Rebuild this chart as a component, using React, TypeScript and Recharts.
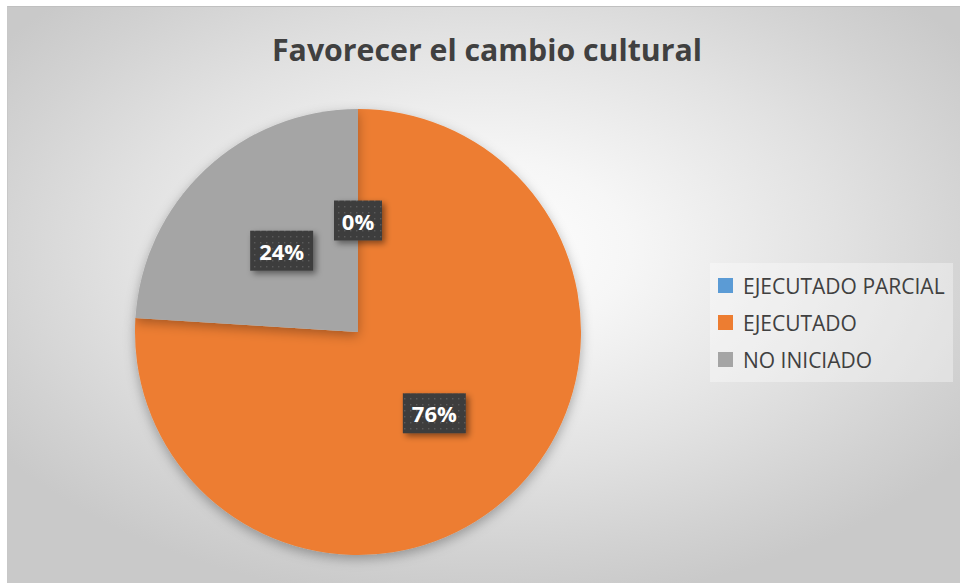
import React from 'react';
import { PieChart, Pie, Cell, Legend } from 'recharts';

const categories = ['EJECUTADO PARCIAL', 'EJECUTADO', 'NO INICIADO'];
const values = [0, 76, 24];
const colors = ['#5B9BD5', '#ED7D31', '#A5A5A5'];
const title = 'Favorecer el cambio cultural';

const data = categories.map((name, i) => ({ name, value: values[i] }));

const RADIAN = Math.PI / 180;
const FONT = '"Open Sans", "Noto Sans", sans-serif';

const renderLabel = (props: any) => {
  const { cx, cy, midAngle, outerRadius, percent } = props;
  const r = outerRadius * 0.5;
  const x = cx + r * Math.cos(-midAngle * RADIAN);
  const y = cy + r * Math.sin(-midAngle * RADIAN);
  const txt = `${Math.round(percent * 100)}%`;
  const w = txt.length <= 2 ? 48 : 63;
  const h = 40;
  return (
    <g>
      <rect
        x={x - w / 2}
        y={y - h / 2}
        width={w}
        height={h}
        fill="url(#darkDots)"
        filter="url(#boxShadow)"
      />
      <text
        x={x}
        y={y}
        textAnchor="middle"
        dominantBaseline="central"
        fill="#ffffff"
        fontFamily={FONT}
        fontWeight={700}
        fontSize={22}
      >
        {txt}
      </text>
    </g>
  );
};

const renderLegend = () => (
  <div
    style={{
      width: 243,
      height: 119,
      background: 'rgba(255,255,255,0.35)',
      boxSizing: 'border-box',
      paddingTop: 4,
      paddingLeft: 8,
    }}
  >
    {categories.map((c, i) => (
      <div
        key={c}
        style={{ display: 'flex', alignItems: 'center', height: 37 }}
      >
        <div style={{ width: 15, height: 15, background: colors[i], marginRight: 10, flexShrink: 0 }} />
        <span
          style={{
            fontFamily: FONT,
            fontSize: 21,
            lineHeight: '24px',
            color: '#404040',
            whiteSpace: 'nowrap',
          }}
        >
          {c}
        </span>
      </div>
    ))}
  </div>
);

export default function App() {
  return (
    <div style={{ position: 'absolute', left: 0, top: 0, width: 960, height: 583, background: '#ffffff', overflow: 'hidden' }}>
      <div
        style={{
          position: 'absolute',
          left: 7,
          top: 6,
          width: 953,
          height: 577,
          boxSizing: 'border-box',
          borderTop: '1px solid #c0c0c0',
          borderLeft: '1px solid #c8c8c8',
          background:
            'radial-gradient(ellipse 62% 62% at 50% 42%, #ffffff 0%, #f6f6f6 25%, #e2e2e2 60%, #d2d2d2 85%, #c9c9c9 100%)',
        }}
      />
      <svg style={{ position: 'absolute', left: 0, top: 0 }} width={960} height={100}>
        <text
          x={487}
          y={61}
          textAnchor="middle"
          fontFamily={FONT}
          fontWeight={700}
          fontSize={30}
          fill="#404040"
          textLength={430}
          lengthAdjust="spacingAndGlyphs"
        >
          {title}
        </text>
      </svg>
      <div style={{ position: 'absolute', left: 0, top: 0 }}>
        <PieChart width={960} height={583} margin={{ top: 0, right: 0, bottom: 0, left: 0 }}>
          <defs>
            <pattern id="darkDots" width="6" height="6" patternUnits="userSpaceOnUse">
              <rect width="6" height="6" fill="#3d3d3d" />
              <rect x="2" y="2" width="1.4" height="1.4" fill="#5a5a5a" />
            </pattern>
            <filter id="boxShadow" x="-30%" y="-30%" width="170%" height="180%">
              <feDropShadow dx="3" dy="3" stdDeviation="3" floodColor="#000" floodOpacity="0.45" />
            </filter>
            <filter id="pieShadow" x="-20%" y="-20%" width="140%" height="140%">
              <feDropShadow dx="0" dy="4" stdDeviation="6" floodColor="#000" floodOpacity="0.3" />
            </filter>
          </defs>
          <Pie
            data={data}
            dataKey="value"
            nameKey="name"
            cx={358}
            cy={332}
            outerRadius={223}
            startAngle={90}
            endAngle={-270}
            stroke="none"
            label={renderLabel}
            labelLine={false}
            isAnimationActive={false}
            style={{ filter: 'url(#pieShadow)' }}
          >
            {data.map((d, i) => (
              <Cell key={d.name} fill={colors[i]} />
            ))}
          </Pie>
          <Legend
            content={renderLegend}
            wrapperStyle={{ position: 'absolute', left: 710, top: 263, width: 243, height: 119 }}
          />
        </PieChart>
      </div>
    </div>
  );
}
